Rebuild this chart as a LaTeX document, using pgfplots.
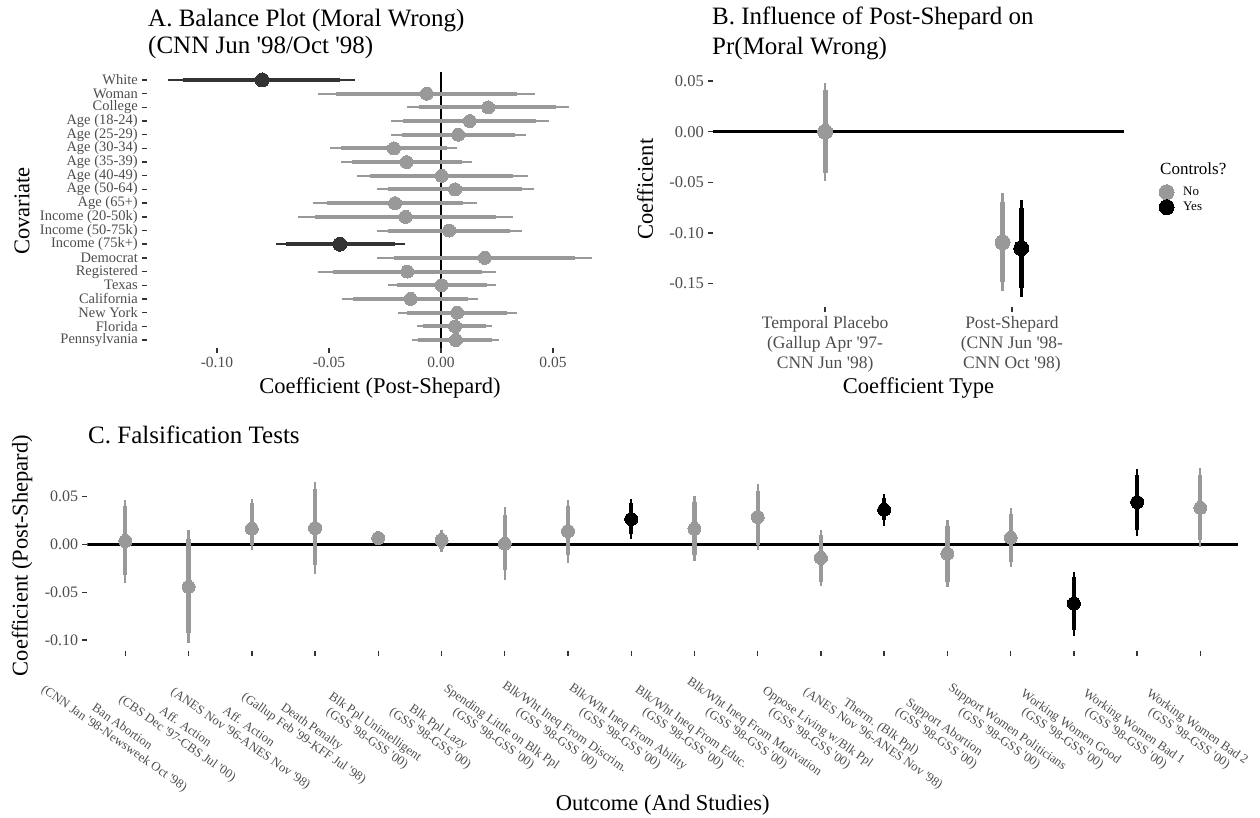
\documentclass[border=0pt]{standalone}
\usepackage{fontspec}
\setmainfont{Liberation Serif}
\usepackage{pgfplots}
\usepackage{pgfplotstable}
\pgfplotsset{compat=1.18}
\definecolor{ggray}{HTML}{999999}
\definecolor{gdark}{HTML}{333333}
\definecolor{tickc}{HTML}{333333}
\definecolor{labc}{HTML}{4D4D4D}
\newcommand{\ap}{\textquotesingle}
\newcommand{\gss}{(GSS \ap98-GSS \ap00)}

% panel A: row pt lo95 hi95 lo90 hi90 (row 20 = White at top)
\pgfplotstableread{
row pt lo95 hi95 lo90 hi90
19 -0.0064 -0.0548 0.0420 -0.0469 0.0341
18 0.0211 -0.0153 0.0573 -0.0097 0.0513
17 0.0129 -0.0223 0.0481 -0.0168 0.0424
16 0.0077 -0.0223 0.0378 -0.0176 0.0330
15 -0.0210 -0.0493 0.0073 -0.0446 0.0025
14 -0.0153 -0.0445 0.0140 -0.0397 0.0092
13 0.0003 -0.0376 0.0387 -0.0317 0.0323
12 0.0063 -0.0287 0.0415 -0.0235 0.0360
11 -0.0205 -0.0570 0.0159 -0.0510 0.0100
10 -0.0158 -0.0637 0.0323 -0.0563 0.0246
9 0.0037 -0.0287 0.0360 -0.0238 0.0308
7 0.0196 -0.0287 0.0674 -0.0210 0.0600
6 -0.0150 -0.0548 0.0246 -0.0484 0.0182
5 0.0003 -0.0235 0.0244 -0.0198 0.0204
4 -0.0135 -0.0442 0.0167 -0.0391 0.0119
3 0.0073 -0.0193 0.0338 -0.0153 0.0293
2 0.0063 -0.0109 0.0229 -0.0082 0.0201
1 0.0067 -0.0131 0.0259 -0.0101 0.0226
}\Agray
\pgfplotstableread{
row pt lo95 hi95 lo90 hi90
20 -0.0798 -0.1217 -0.0384 -0.1150 -0.0451
8 -0.0451 -0.0737 -0.0161 -0.0692 -0.0205
}\Adark

% panel B
\pgfplotstableread{
x pt lo95 hi95 lo90 hi90
1 0.0000 -0.0487 0.0484 -0.0405 0.0412
1.95 -0.1092 -0.1572 -0.0608 -0.1480 -0.0690
}\Bno
\pgfplotstableread{
x pt lo95 hi95 lo90 hi90
2.05 -0.1151 -0.1628 -0.0674 -0.1546 -0.0756
}\Byes

% panel C
\pgfplotstableread{
x pt lo95 hi95 lo90 hi90
1 0.0035 -0.0403 0.0465 -0.0323 0.0396
2 -0.0444 -0.1028 0.0153 -0.0931 0.0059
3 0.0163 -0.0056 0.0476 -0.0010 0.0430
4 0.0170 -0.0313 0.0649 -0.0219 0.0573
5 0.0066 0.0007 0.0128 0.0020 0.0112
6 0.0042 -0.0080 0.0153 -0.0045 0.0118
7 0.0007 -0.0368 0.0389 -0.0271 0.0302
8 0.0139 -0.0194 0.0465 -0.0115 0.0396
10 0.0163 -0.0177 0.0507 -0.0115 0.0441
11 0.0285 -0.0063 0.0625 -0.0010 0.0556
12 -0.0142 -0.0438 0.0146 -0.0392 0.0094
14 -0.0097 -0.0444 0.0250 -0.0392 0.0188
15 0.0069 -0.0236 0.0378 -0.0184 0.0319
18 0.0382 -0.0028 0.0795 0.0042 0.0719
}\Cgray
\pgfplotstableread{
x pt lo95 hi95 lo90 hi90
9 0.0263 0.0052 0.0476 0.0111 0.0431
13 0.0361 0.0191 0.0528 0.0250 0.0486
16 -0.0618 -0.0958 -0.0288 -0.0896 -0.0340
17 0.0441 0.0083 0.0788 0.0146 0.0719
}\Cblack

\pgfplotsset{
  gg/.style={scale only axis, anchor=south west,
    axis lines*=left, axis line style={draw=none},
    tick align=outside, major tick length=5pt,
    tick style={draw=tickc, line width=1.4pt},
    ticklabel style={text=labc, inner sep=0pt},
    xticklabel style={yshift=-4pt}, yticklabel style={xshift=-4pt}},
  hbar/.style n args={3}{draw=none, forget plot, mark=none,
    error bars/.cd, x dir=both, x explicit, error mark=none,
    error bar style={draw=#1, line width=#2}},
  vbar/.style n args={3}{draw=none, forget plot, mark=none,
    error bars/.cd, y dir=both, y explicit, error mark=none,
    error bar style={draw=#1, line width=#2}},
  dot/.style 2 args={color=#1, only marks, forget plot, mark=*, mark size=#2,
    mark options={solid, fill=#1, draw=#1, line width=0pt}},
}

\begin{document}
\begin{tikzpicture}
\path[use as bounding box] (0pt,0pt) rectangle (1260pt,818pt);

% ---------- A ----------
\begin{axis}[gg, at={(147pt,469.8pt)}, width=466pt, height=276.4pt,
  xmin=-0.1312, xmax=0.0768, ymin=0.4, ymax=20.6,
  xtick={-0.1,-0.05,0,0.05}, xticklabels={-0.10,-0.05,0.00,0.05},
  ytick={1,...,20},
  yticklabels={Pennsylvania,Florida,New York,California,Texas,Registered,Democrat,
    Income (75k+),Income (50-75k),Income (20-50k),Age (65+),Age (50-64),Age (40-49),
    Age (35-39),Age (30-34),Age (25-29),Age (18-24),College,Woman,White},
  xticklabel style={font=\fontsize{15.5}{17}\selectfont},
  yticklabel style={font=\fontsize{14.5}{16}\selectfont},
]
\addplot[black, line width=2.8pt, forget plot] coordinates {(0,0.4) (0,20.6)};
\addplot[hbar={ggray}{2pt}{}] table[x=pt, y=row,
  x error plus expr=\thisrow{hi95}-\thisrow{pt}, x error minus expr=\thisrow{pt}-\thisrow{lo95}] {\Agray};
\addplot[hbar={ggray}{4pt}{}] table[x=pt, y=row,
  x error plus expr=\thisrow{hi90}-\thisrow{pt}, x error minus expr=\thisrow{pt}-\thisrow{lo90}] {\Agray};
\addplot[hbar={gdark}{2pt}{}] table[x=pt, y=row,
  x error plus expr=\thisrow{hi95}-\thisrow{pt}, x error minus expr=\thisrow{pt}-\thisrow{lo95}] {\Adark};
\addplot[hbar={gdark}{4pt}{}] table[x=pt, y=row,
  x error plus expr=\thisrow{hi90}-\thisrow{pt}, x error minus expr=\thisrow{pt}-\thisrow{lo90}] {\Adark};
\addplot[dot={ggray}{6.5pt}] table[x=pt, y=row] {\Agray};
\addplot[dot={gdark}{7pt}] table[x=pt, y=row] {\Adark};
\end{axis}

% ---------- B ----------
\begin{axis}[gg, at={(713pt,510.7pt)}, width=411pt, height=235.4pt,
  xmin=0.4, xmax=2.6, ymin=-0.1734, ymax=0.059,
  xtick={1,2},
  xticklabels={{Temporal Placebo\\(Gallup Apr \ap97-\\CNN Jun \ap98)},
    {Post-Shepard\\(CNN Jun \ap98-\\CNN Oct \ap98)}},
  ytick={-0.15,-0.1,-0.05,0,0.05},
  yticklabels={-0.15,-0.10,-0.05,0.00,0.05},
  xticklabel style={align=center, font=\fontsize{17.5}{20}\selectfont},
  yticklabel style={font=\fontsize{16.5}{18}\selectfont},
  legend style={at={(1.085,0.5217)}, anchor=north west, draw=none, fill=none,
    inner sep=0pt, row sep=0pt, font=\fontsize{13}{15}\selectfont,
    nodes={inner sep=1pt}, cells={anchor=west},
    /tikz/every odd column/.append style={column sep=8pt}},
]
\addplot[black, line width=2.8pt, forget plot] coordinates {(0.4,0) (2.6,0)};
\addplot[vbar={ggray}{2.6pt}{}] table[x=x, y=pt,
  y error plus expr=\thisrow{hi95}-\thisrow{pt}, y error minus expr=\thisrow{pt}-\thisrow{lo95}] {\Bno};
\addplot[vbar={ggray}{5pt}{}] table[x=x, y=pt,
  y error plus expr=\thisrow{hi90}-\thisrow{pt}, y error minus expr=\thisrow{pt}-\thisrow{lo90}] {\Bno};
\addplot[vbar={black}{2.6pt}{}] table[x=x, y=pt,
  y error plus expr=\thisrow{hi95}-\thisrow{pt}, y error minus expr=\thisrow{pt}-\thisrow{lo95}] {\Byes};
\addplot[vbar={black}{5pt}{}] table[x=x, y=pt,
  y error plus expr=\thisrow{hi90}-\thisrow{pt}, y error minus expr=\thisrow{pt}-\thisrow{lo90}] {\Byes};
\addplot[dot={ggray}{7.5pt}] table[x=x, y=pt] {\Bno};
\addplot[dot={black}{7.5pt}] table[x=x, y=pt] {\Byes};
\addlegendimage{color=ggray, only marks, mark=*, mark size=7.5pt, mark options={solid, fill=ggray, draw=ggray, line width=0pt}}
\addlegendentry{No}
\addlegendimage{color=black, only marks, mark=*, mark size=7.5pt, mark options={solid, fill=black, draw=black, line width=0pt}}
\addlegendentry{Yes}
\end{axis}

% ---------- C ----------
\begin{axis}[gg, at={(87.4pt,166.5pt)}, width=1150.9pt, height=192pt,
  xmin=0.4, xmax=18.6, ymin=-0.1119, ymax=0.0886,
  xtick={1,...,18},
  xticklabels={
    {Ban Abortion\\(CNN Jan \ap98-Newsweek Oct \ap98)},
    {Aff. Action\\(CBS Dec \ap97-CBS Jul \ap00)},
    {Aff. Action\\(ANES Nov \ap96-ANES Nov \ap98)},
    {Death Penalty\\(Gallup Feb \ap99-KFF Jul \ap98)},
    {Blk Ppl Unintelligent\\\gss},
    {Blk Ppl Lazy\\\gss},
    {Spending Little on Blk Ppl\\\gss},
    {Blk/Wht Ineq From Discrim.\\\gss},
    {Blk/Wht Ineq From Ability\\\gss},
    {Blk/Wht Ineq From Educ.\\\gss},
    {Blk/Wht Ineq From Motivation\\\gss},
    {Oppose Living w/Blk Ppl\\\gss},
    {Therm. (Blk Ppl)\\(ANES Nov \ap96-ANES Nov \ap98)},
    {Support Abortion\\\gss},
    {Support Women Politicians\\\gss},
    {Working Women Good\\\gss},
    {Working Women Bad 1\\\gss},
    {Working Women Bad 2\\\gss}},
  ytick={-0.1,-0.05,0,0.05}, yticklabels={-0.10,-0.05,0.00,0.05},
  xticklabel style={yshift=-62pt, rotate=-35, anchor=north, align=center,
    font=\fontsize{12.8}{14}\selectfont},
  yticklabel style={font=\fontsize{16}{18}\selectfont},
]
\addplot[black, line width=2.8pt, forget plot] coordinates {(0.4,0) (18.6,0)};
\addplot[vbar={ggray}{2.2pt}{}] table[x=x, y=pt,
  y error plus expr=\thisrow{hi95}-\thisrow{pt}, y error minus expr=\thisrow{pt}-\thisrow{lo95}] {\Cgray};
\addplot[vbar={ggray}{4.2pt}{}] table[x=x, y=pt,
  y error plus expr=\thisrow{hi90}-\thisrow{pt}, y error minus expr=\thisrow{pt}-\thisrow{lo90}] {\Cgray};
\addplot[vbar={black}{2.2pt}{}] table[x=x, y=pt,
  y error plus expr=\thisrow{hi95}-\thisrow{pt}, y error minus expr=\thisrow{pt}-\thisrow{lo95}] {\Cblack};
\addplot[vbar={black}{4.2pt}{}] table[x=x, y=pt,
  y error plus expr=\thisrow{hi90}-\thisrow{pt}, y error minus expr=\thisrow{pt}-\thisrow{lo90}] {\Cblack};
\addplot[dot={ggray}{6.5pt}] table[x=x, y=pt] {\Cgray};
\addplot[dot={black}{6.5pt}] table[x=x, y=pt] {\Cblack};
\end{axis}

% ---------- titles ----------
\begin{scope}[every node/.style={inner sep=0pt}]
\node[anchor=base west, font=\fontsize{25}{30}\selectfont] at (148pt,791.5pt) {A. Balance Plot (Moral Wrong)};
\node[anchor=base west, font=\fontsize{25}{30}\selectfont] at (148pt,764pt) {(CNN Jun \ap98/Oct \ap98)};
\node[anchor=base west, font=\fontsize{25}{30}\selectfont] at (712pt,793pt) {B. Influence of Post-Shepard on};
\node[anchor=base west, font=\fontsize{25}{30}\selectfont] at (712pt,763pt) {Pr(Moral Wrong)};
\node[anchor=base west, font=\fontsize{25}{30}\selectfont] at (88pt,374pt) {C. Falsification Tests};
\node[anchor=base, font=\fontsize{22.5}{26}\selectfont] at (380pt,424pt) {Coefficient (Post-Shepard)};
\node[anchor=base, font=\fontsize{22.5}{26}\selectfont] at (918.5pt,424pt) {Coefficient Type};
\node[anchor=base, font=\fontsize{22.5}{26}\selectfont] at (662.8pt,7pt) {Outcome (And Studies)};
\node[rotate=90, font=\fontsize{22.5}{26}\selectfont] at (22pt,607pt) {Covariate};
\node[rotate=90, font=\fontsize{22.5}{26}\selectfont] at (645pt,629pt) {Coefficient};
\node[rotate=90, font=\fontsize{22.5}{26}\selectfont] at (22pt,262.5pt) {Coefficient (Post-Shepard)};
\node[anchor=base west, font=\fontsize{17}{20}\selectfont] at (1160pt,643pt) {Controls?};
\end{scope}
\end{tikzpicture}
\end{document}
